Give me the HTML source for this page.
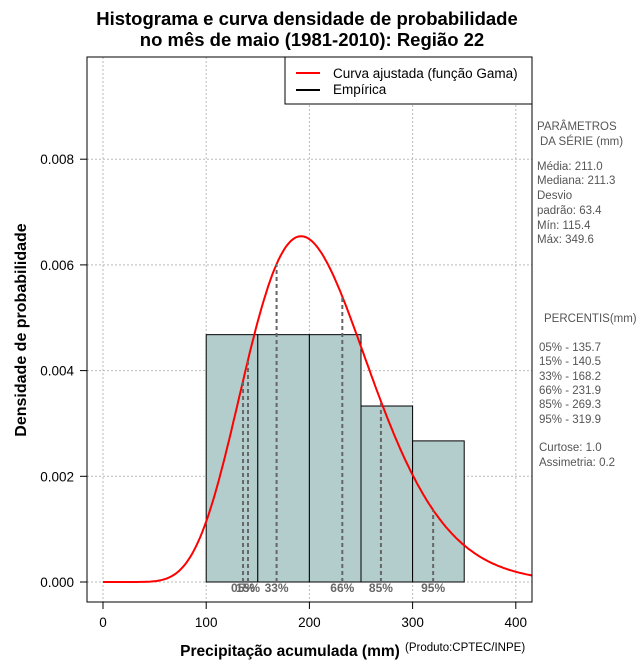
<!DOCTYPE html>
<html><head><meta charset="utf-8"><style>
body{margin:0;background:#fff;width:640px;height:660px;overflow:hidden}
svg{font-family:"Liberation Sans",sans-serif}
</style></head><body>
<svg id="c" width="640" height="660" xmlns="http://www.w3.org/2000/svg">
<text x="307" y="25" text-anchor="middle" font-size="18.5" font-weight="bold">Histograma e curva densidade de probabilidade</text>
<text x="312" y="46" text-anchor="middle" font-size="18.5" font-weight="bold">no mês de maio (1981-2010): Região 22</text>
<g id="grid"></g><g id="bars"></g><g id="curve"></g><g id="pct"></g><g id="axes"></g>
<rect x="87" y="57" width="445" height="545" fill="none" stroke="#000"/>
<g>
<rect x="285" y="57" width="247" height="47" fill="#fff" stroke="#000"/>
<line x1="296" y1="73" x2="320" y2="73" stroke="red" stroke-width="2"/>
<text x="333" y="78" font-size="13.5">Curva ajustada (função Gama)</text>
<line x1="296" y1="90" x2="320" y2="90" stroke="#000" stroke-width="2"/>
<text x="333" y="94" font-size="13.5">Empírica</text>
</g>
<text x="290" y="656" text-anchor="middle" font-size="15.5" font-weight="bold">Precipitação acumulada (mm)</text>
<text x="405" y="651" font-size="11.5">(Produto:CPTEC/INPE)</text>
<text transform="translate(26,330) rotate(-90)" text-anchor="middle" font-size="16" font-weight="bold">Densidade de probabilidade</text>
<g font-size="11.5" fill="#555">
<text x="537" y="130">PARÂMETROS</text><text x="540" y="145">DA SÉRIE (mm)</text>
<text x="537" y="170">Média:  211.0</text><text x="537" y="184">Mediana:  211.3</text>
<text x="537" y="199">Desvio</text><text x="537" y="214">padrão:  63.4</text>
<text x="537" y="229">Mín:  115.4</text><text x="537" y="243">Máx:  349.6</text>
<text x="544" y="322">PERCENTIS(mm)</text>
<text x="539" y="351">05% -  135.7</text><text x="539" y="365">15% -  140.5</text>
<text x="539" y="380">33% -  168.2</text><text x="539" y="394">66% -  231.9</text>
<text x="539" y="408">85% -  269.3</text><text x="539" y="423">95% -  319.9</text>
<text x="539" y="451">Curtose:  1.0</text><text x="539" y="466">Assimetria:  0.2</text>
</g>
</svg>
<script>
const binEdges=[100,150,200,250,300,350];
const binDensity=[0.00468,0.00468,0.00468,0.00333,0.00267];
const gammaParams=[211.0,63.4]; // mean, sd
const pctLabels=["05%","15%","33%","66%","85%","95%"];
const pctValues=[135.7,140.5,168.2,231.9,269.3,319.9];
const xTicks=[0,100,200,300,400];
const yTicks=[0,0.002,0.004,0.006,0.008];
const NS="http://www.w3.org/2000/svg";
const X=v=>103+1.032*v, Y=v=>582-v*52850;
function mk(p,t,a){const e=document.createElementNS(NS,t);for(const k in a)e.setAttribute(k,a[k]);document.getElementById(p).appendChild(e);return e;}
const k=(gammaParams[0]/gammaParams[1])**2, th=gammaParams[1]**2/gammaParams[0];
function lg(z){const g=[676.5203681218851,-1259.1392167224028,771.32342877765313,-176.61502916214059,12.507343278686905,-0.13857109526572012,9.9843695780195716e-6,1.5056327351493116e-7];z-=1;let x=0.99999999999980993;for(let i=0;i<8;i++)x+=g[i]/(z+i+1);const t=z+7.5;return 0.5*Math.log(2*Math.PI)+(z+0.5)*Math.log(t)-t+Math.log(x);}
const pdf=x=>x<=0?0:Math.exp((k-1)*Math.log(x)-x/th-lg(k)-k*Math.log(th));
xTicks.forEach(t=>{const l=mk('grid','line',{x1:X(t),x2:X(t),y1:57,y2:602,stroke:'#bbb','stroke-dasharray':'2,2'});

const tk=mk('axes','line',{x1:X(t),x2:X(t),y1:602,y2:609,stroke:'#000'});
const tx=mk('axes','text',{x:X(t),y:627,'text-anchor':'middle','font-size':13.5});tx.textContent=t;});
yTicks.forEach(t=>{const l=mk('grid','line',{x1:87,x2:532,y1:Y(t),y2:Y(t),stroke:'#bbb','stroke-dasharray':'2,2'});

const tk=mk('axes','line',{x1:80,x2:87,y1:Y(t),y2:Y(t),stroke:'#000'});
const tx=mk('axes','text',{x:74,y:Y(t)+5,'text-anchor':'end','font-size':13.5});tx.textContent=t.toFixed(3);});
binDensity.forEach((d,i)=>{const r=mk('bars','rect',{x:X(binEdges[i]),y:Y(d),width:X(binEdges[i+1])-X(binEdges[i]),height:Y(0)-Y(d),fill:'#b3cdcd',stroke:'#000','stroke-width':1});
});
const bl=mk('bars','line',{x1:X(binEdges[0]),x2:X(binEdges[binEdges.length-1]),y1:Y(0),y2:Y(0),stroke:'#000','stroke-dasharray':'1,2'});

let d='';for(let v=0;v<=416;v+=2)d+=(v?'L':'M')+X(v).toFixed(1)+','+Y(pdf(v)).toFixed(1);
const c=mk('curve','path',{d:d,fill:'none',stroke:'red','stroke-width':2});

pctValues.forEach((p,i)=>{const l=mk('pct','line',{x1:X(p),x2:X(p),y1:Y(0),y2:Y(pdf(p)),stroke:'#666','stroke-width':2,'stroke-dasharray':'4,3'});

const t=mk('pct','text',{x:X(p),y:592,'text-anchor':'middle','font-size':12,fill:'#666','font-weight':'bold'});t.textContent=pctLabels[i];
});
</script>
</body></html>
